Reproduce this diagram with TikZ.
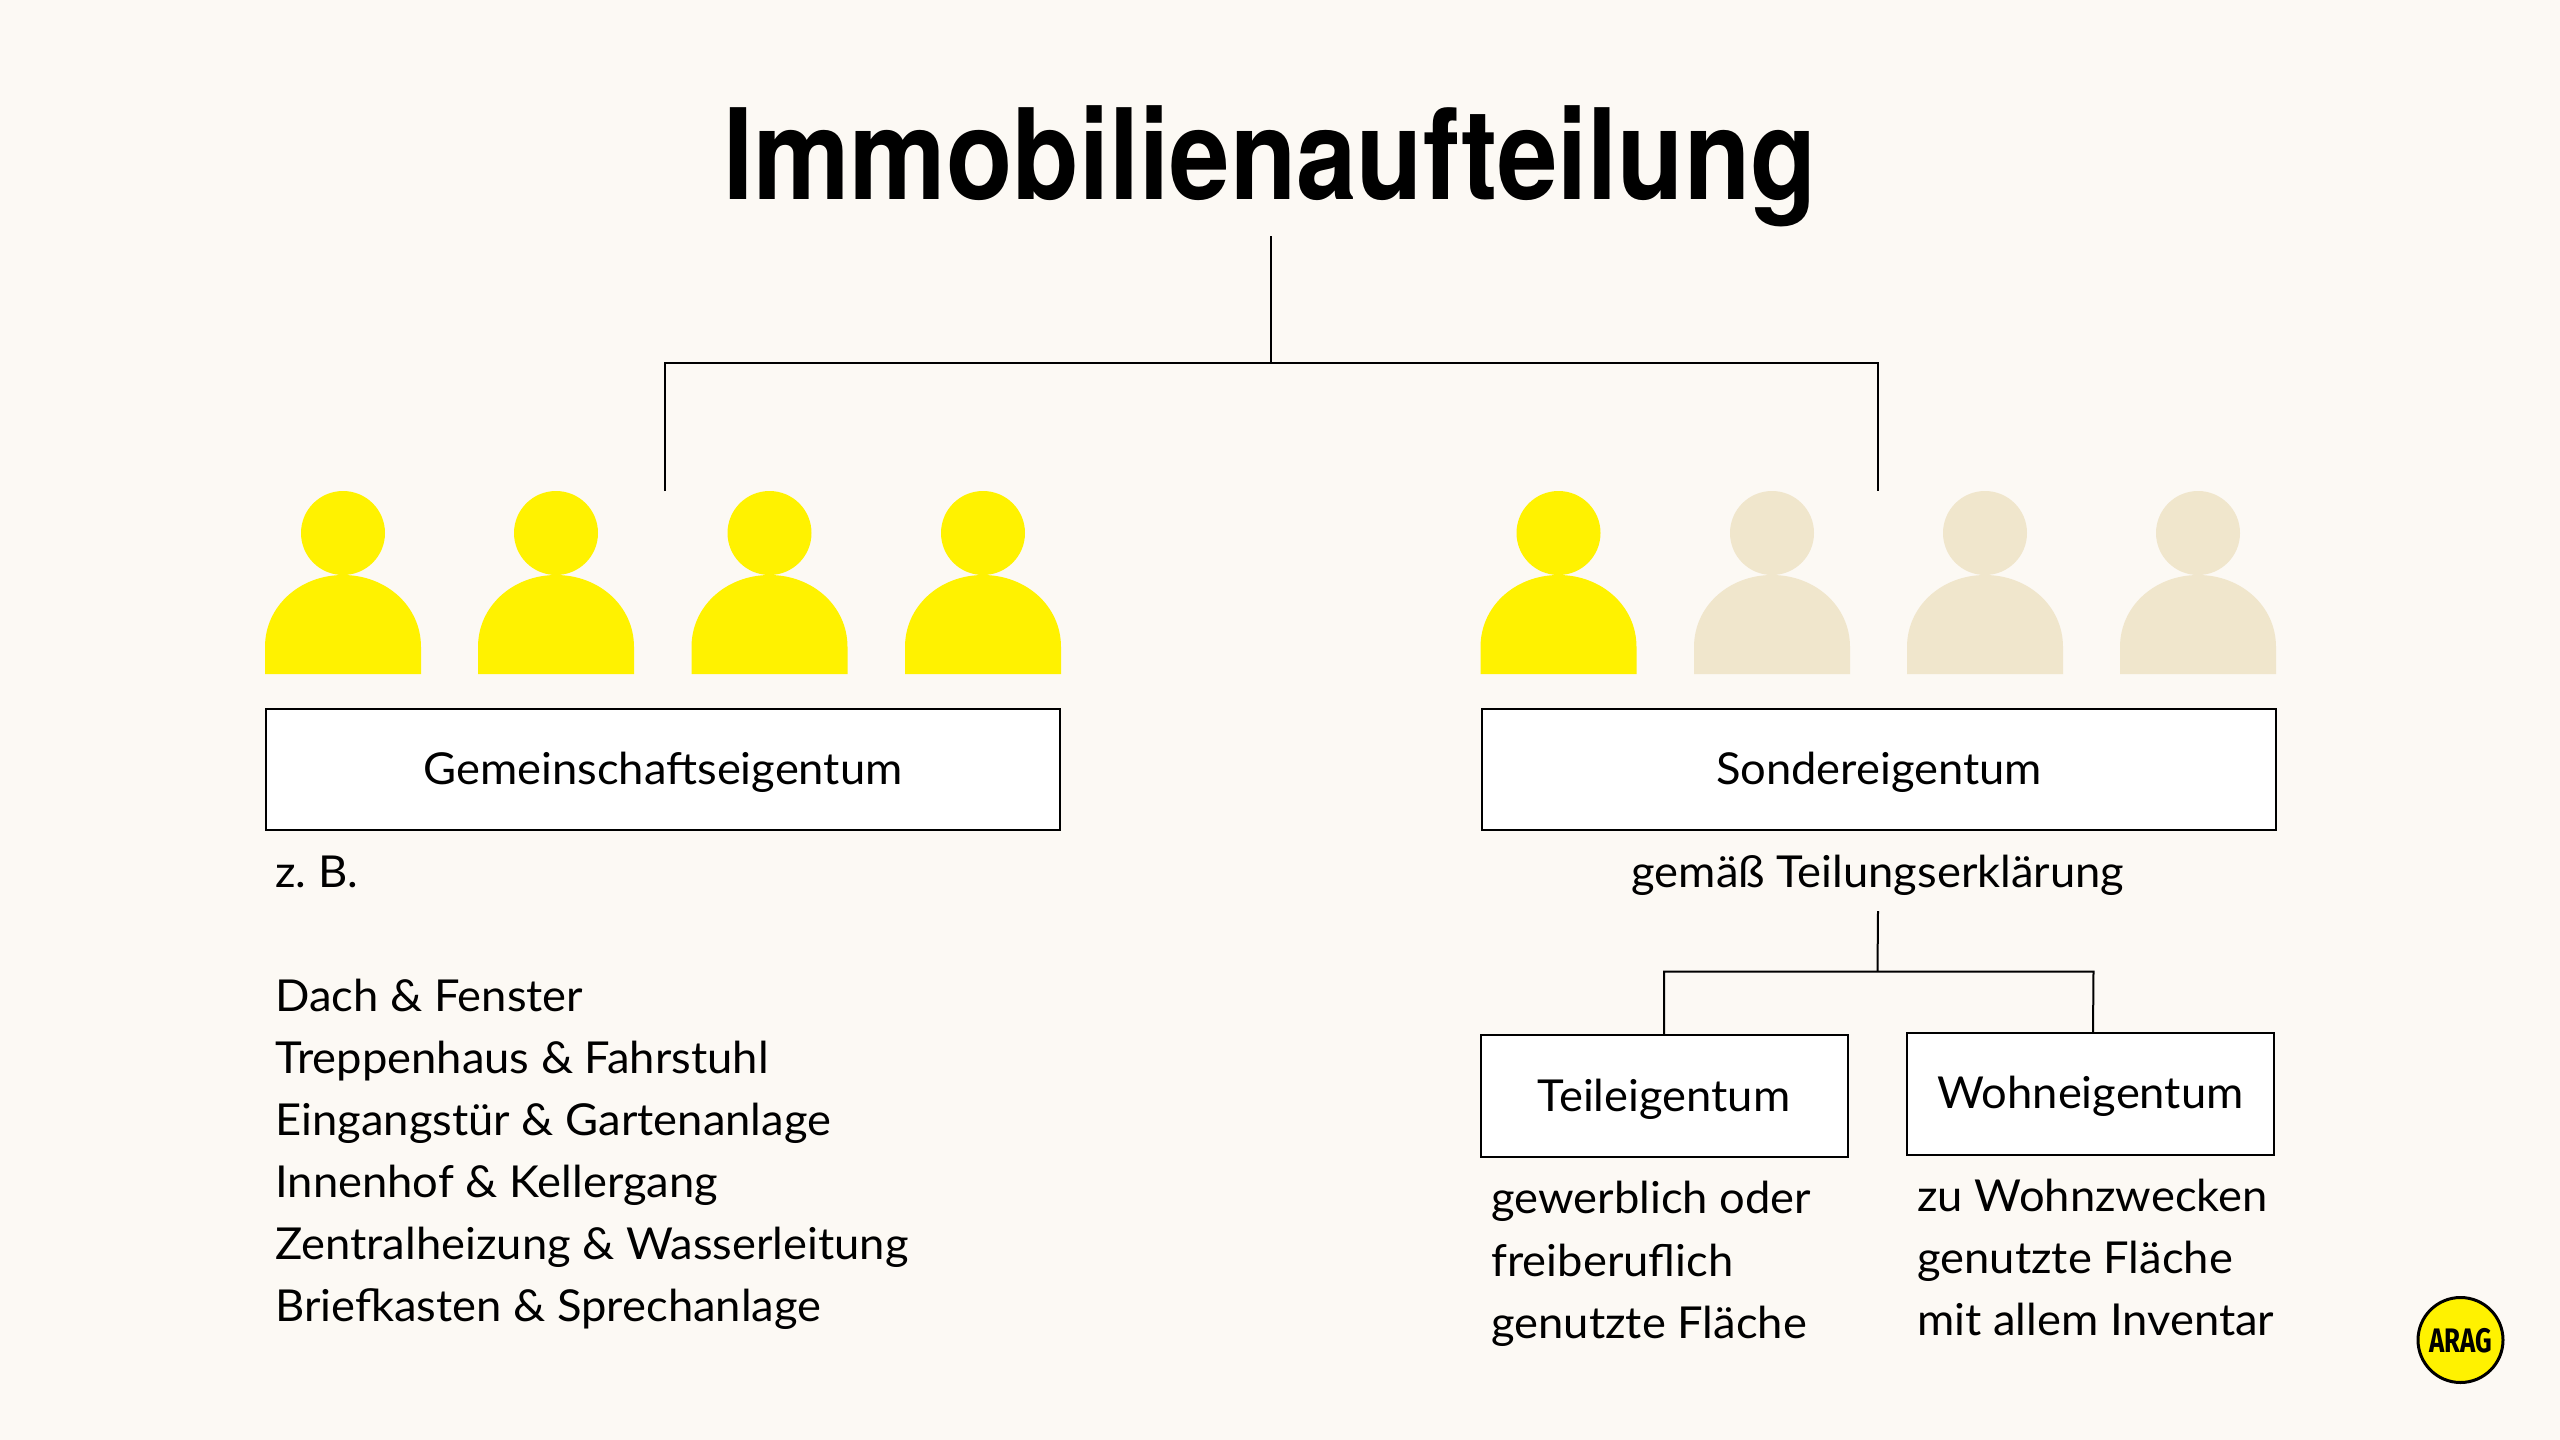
\documentclass[tikz,border=0pt]{standalone}
\usepackage{fontspec}
\setmainfont{Lato}[FakeStretch=1.03]
\newfontfamily\titlefont{TeX Gyre Heros}[BoldFont={* Bold},FakeStretch=0.862]
\newfontfamily\logofont{Fira Sans}[FakeStretch=0.76]
\definecolor{bgc}{HTML}{FCF9F4}
\definecolor{yel}{HTML}{FFF200}
\definecolor{bei}{HTML}{F0E6CC}
\tikzset{
  x=0.5pt,y=-0.5pt,
  conn/.style={draw=black,line width=1pt},
  boxn/.style={draw=black,fill=white,line width=1pt,inner sep=0pt,outer sep=0pt,font=\fontsize{22}{26}\selectfont,text height=15pt,text depth=0pt,align=center},
  lbl/.style={font=\frenchspacing\fontsize{22}{26}\selectfont,inner sep=0pt,text=black},
  lft/.style={lbl,anchor=base west},
  ctr/.style={lbl,anchor=base},
  pics/person/.style={code={
    \fill[#1] (0,-141) circle[radius=42];
    \fill[#1] (-78,-27) .. controls (-78,-68) and (-43,-99) .. (0,-99) .. controls (43,-99) and (78,-68) .. (78,-27) -- (78,0) -- (-78,0) -- cycle;
  }}
}
\begin{document}
\begin{tikzpicture}
\path[use as bounding box,fill=bgc] (0,0) rectangle (2560,1440);
\node[anchor=base,inner sep=0pt,font=\titlefont\bfseries\fontsize{63}{68}\selectfont] (title) at (1270,199) {Immobilienaufteilung};
\coordinate (t0) at (1270.5,236);
\coordinate (tj) at (1270.5,363);
\coordinate (tl) at (664.5,491);
\coordinate (tr) at (1877.5,491);
\draw[conn] (t0) -- (tj);
\draw[conn] (tl) |- (tr |- tj) -- (tr);
\foreach \nm/\x in {a/343,b/556,c/769.5,d/983}{ \pic (\nm) at (\x,674) {person=yel}; }
\pic (e) at (1558.5,674) {person=yel};
\foreach \nm/\x in {f/1772,g/1985,h/2198}{ \pic (\nm) at (\x,674) {person=bei}; }
\node[boxn,minimum width=397pt,minimum height=60.5pt] (gem) at (663,769.5) {Gemeinschaftseigentum};
\node[boxn,minimum width=397pt,minimum height=60.5pt] (son) at (1879,769.5) {Sondereigentum};
\node[lft] (zb) at (275,887.5) {z. B.};
\node[lft] (l1) at (275,1011.5) {Dach \& Fenster};
\node[lft] (l2) at (275,1073.5) {Treppenhaus \& Fahrstuhl};
\node[lft] (l3) at (275,1135.5) {Eingangstür \& Gartenanlage};
\node[lft] (l4) at (275,1197.5) {Innenhof \& Kellergang};
\node[lft] (l5) at (275,1259.5) {Zentralheizung \& Wasserleitung};
\node[lft] (l6) at (275,1321.5) {Briefkasten \& Sprechanlage};
\node[ctr] (gt) at (1878,887.5) {gemäß Teilungserklärung};
\node[boxn,minimum width=183.5pt,minimum height=61pt,text height=15pt] (tei) at (1664,1096) {Teileigentum};
\node[boxn,minimum width=183.5pt,minimum height=61pt,text height=14.5pt] (woh) at (2090.5,1094) {Wohneigentum};
\coordinate (s0) at (1878,911);
\coordinate (sj) at (1877.5,971.5);
\coordinate (wt) at (2093,1033);
\draw[conn] (s0) -- (sj);
\draw[conn] (tei.north) -- (1664,971.5) -- (2093.5,971.5) -- (wt);
\node[lft] (g1) at (1491,1213.5) {gewerblich oder};
\node[lft] (g2) at (1491,1276.5) {freiberuflich};
\node[lft] (g3) at (1491,1338.5) {genutzte Fläche};
\node[lft] (z1) at (1917,1211.5) {zu Wohnzwecken};
\node[lft] (z2) at (1917,1273.5) {genutzte Fläche};
\node[lft] (z3) at (1917,1335.5) {mit allem Inventar};
\node[circle,draw=black,fill=yel,line width=1.5pt,minimum size=42.5pt,inner sep=0pt] (logo) at (2460.5,1340) {};
\node[anchor=base,inner sep=0pt,font=\logofont\bfseries\fontsize{17}{20}\selectfont] (logot) at (2460.5,1352.5) {ARAG};
\end{tikzpicture}
\end{document}
